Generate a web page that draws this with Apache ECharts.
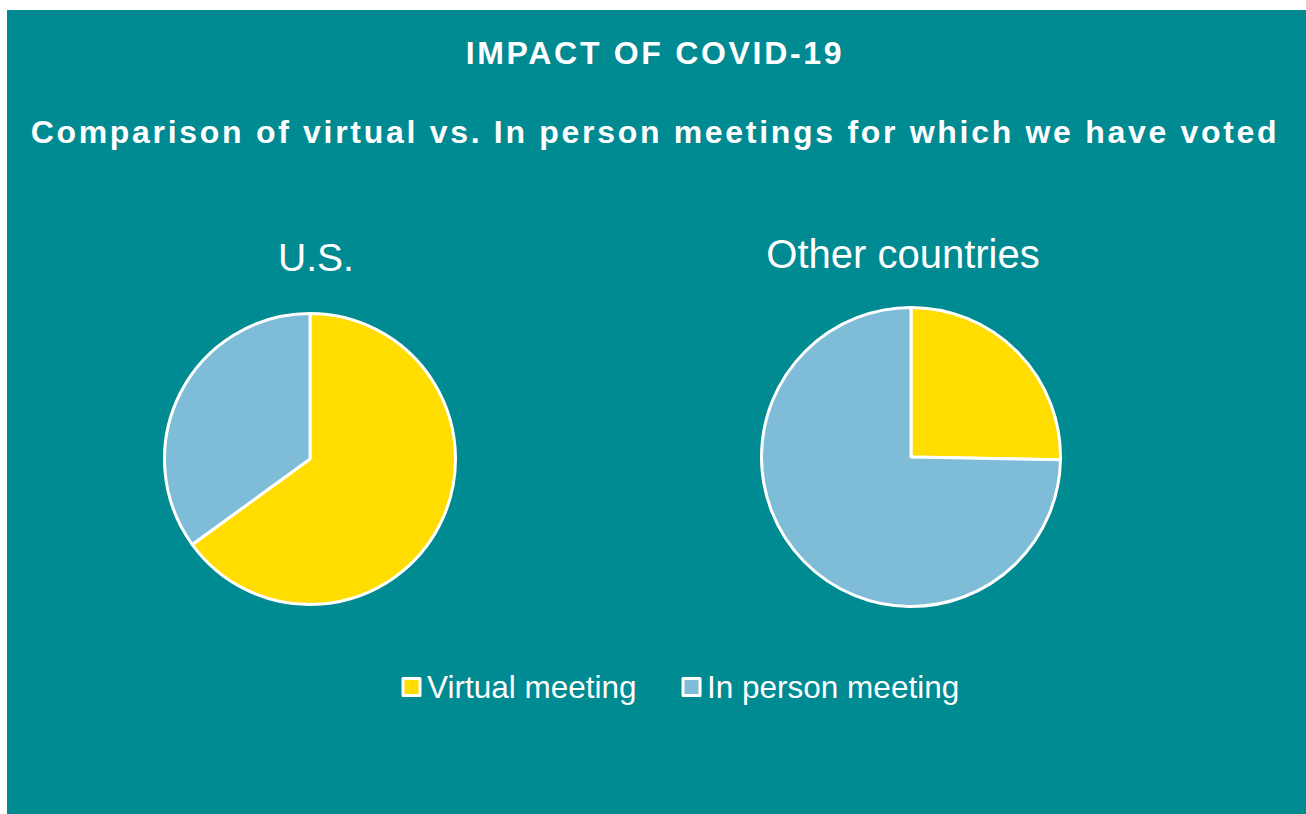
<!DOCTYPE html>
<html>
<head>
<meta charset="utf-8">
<script src="https://cdn.jsdelivr.net/npm/echarts@6/dist/echarts.min.js"></script>
<style>
  html, body { margin: 0; padding: 0; background: #fff; }
  #chart { position: absolute; left: 7px; top: 10px; width: 1299px; height: 804px; }
</style>
</head>
<body>
<div id="chart"></div>
<script>
  // data (percent of meetings voted)
  var categories = ['Virtual meeting', 'In person meeting']
  var usValues = [65, 35]
  var otherValues = [25.3, 74.7]
  var regionNames = ['U.S.', 'Other countries']
  var mainTitle = 'IMPACT OF COVID-19'
  var subTitle = 'Comparison of virtual vs. In person meetings for which we have voted'

  var colors = ['#ffdd00', '#7fbcd8']
  var font = "'Liberation Sans', Arial, sans-serif"

  var chart = echarts.init(document.getElementById('chart'), null, { renderer: 'svg' })

  function toData(values) {
    return categories.map(function (name, i) {
      return { name: name, value: values[i], itemStyle: { color: colors[i] } }
    })
  }

  var pieBase = {
    type: 'pie',
    startAngle: 90,
    clockwise: true,
    silent: true,
    label: { show: false },
    labelLine: { show: false },
    itemStyle: { borderColor: '#fff', borderWidth: 3 },
    emphasis: { disabled: true }
  }

  chart.setOption({
    backgroundColor: '#008a91',
    animation: false,
    textStyle: { fontFamily: font },
    title: [
      {
        text: mainTitle, left: 648, top: 27, textAlign: 'center', padding: 0,
        textStyle: { color: '#fff', fontSize: 32, fontWeight: 'bold', fontFamily: font }
      },
      {
        text: subTitle, left: 648, top: 106, textAlign: 'center', padding: 0,
        textStyle: { color: '#fff', fontSize: 32, fontWeight: 'bold', fontFamily: font }
      },
      {
        text: regionNames[0], left: 309, top: 228, textAlign: 'center', padding: 0,
        textStyle: { color: '#fff', fontSize: 39, fontWeight: 'normal', fontFamily: font }
      },
      {
        text: regionNames[1], left: 896, top: 224, textAlign: 'center', padding: 0,
        textStyle: { color: '#fff', fontSize: 40, fontWeight: 'normal', fontFamily: font }
      }
    ],
    legend: {
      data: categories,
      left: 394.5,
      top: 661,
      padding: 0,
      icon: 'rect',
      itemWidth: 17,
      itemHeight: 17,
      itemGap: 45,
      itemStyle: { borderColor: '#fff', borderWidth: 3 },
      selectedMode: false,
      textStyle: { color: '#fff', fontSize: 31.5, fontFamily: font, padding: [0, 0, 0, 2] }
    },
    series: [
      Object.assign({}, pieBase, { name: regionNames[0], center: [303, 449], radius: 145.5, data: toData(usValues) }),
      Object.assign({}, pieBase, { name: regionNames[1], center: [904, 447], radius: 149.5, data: toData(otherValues) })
    ]
  })

  // headings are letter-spaced in the original
  function spaceTitles() {
    document.querySelectorAll('#chart text').forEach(function (t) {
      if (t.textContent === mainTitle) t.style.letterSpacing = '2.7px'
      else if (t.textContent === subTitle) t.style.letterSpacing = '2.7px'
    })
  }
  spaceTitles()
  chart.on('finished', spaceTitles)
</script>
</body>
</html>
